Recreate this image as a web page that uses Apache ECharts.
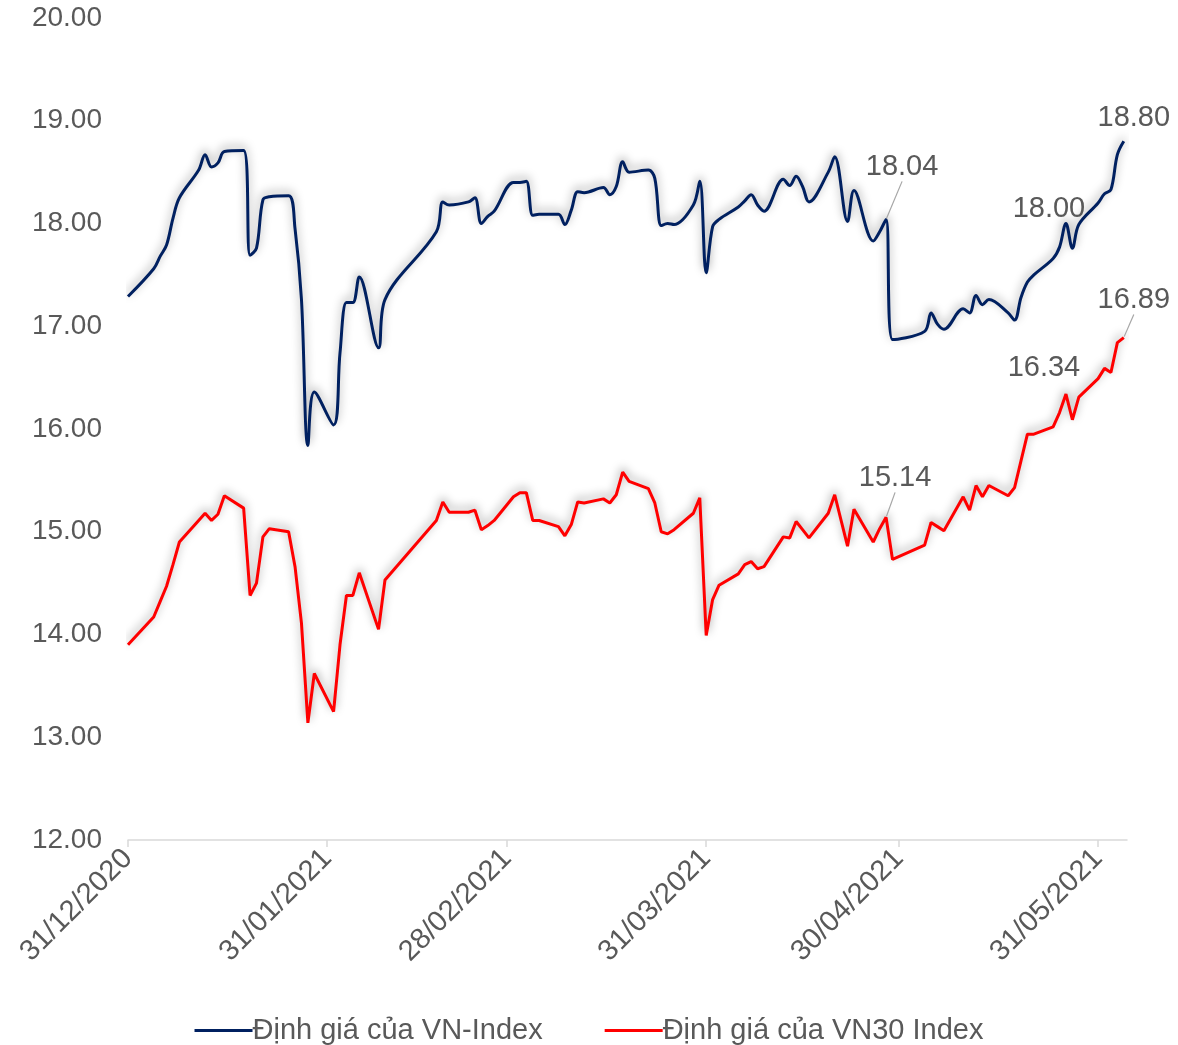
<!DOCTYPE html>
<html>
<head>
<meta charset="utf-8">
<script src="https://cdn.jsdelivr.net/npm/echarts@6/dist/echarts.min.js"></script>
<style>
  html, body { margin: 0; padding: 0; background: #fff; }
  #main { width: 1178px; height: 1045px; }
</style>
</head>
<body>
<div id="main"></div>
<script>
// ngày giao dịch
var dates = [
  '2020-12-31',
  '2021-01-04', '2021-01-05', '2021-01-06', '2021-01-07', '2021-01-08',
  '2021-01-11', '2021-01-12', '2021-01-13', '2021-01-14', '2021-01-15',
  '2021-01-18', '2021-01-19', '2021-01-20', '2021-01-21', '2021-01-22',
  '2021-01-25', '2021-01-26', '2021-01-27', '2021-01-28', '2021-01-29',
  '2021-02-01', '2021-02-02', '2021-02-03', '2021-02-04', '2021-02-05',
  '2021-02-08', '2021-02-09',
  '2021-02-17', '2021-02-18', '2021-02-19',
  '2021-02-22', '2021-02-23', '2021-02-24', '2021-02-25', '2021-02-26',
  '2021-03-01', '2021-03-02', '2021-03-03', '2021-03-04', '2021-03-05',
  '2021-03-08', '2021-03-09', '2021-03-10', '2021-03-11', '2021-03-12',
  '2021-03-15', '2021-03-16', '2021-03-17', '2021-03-18', '2021-03-19',
  '2021-03-22', '2021-03-23', '2021-03-24', '2021-03-25', '2021-03-26',
  '2021-03-29', '2021-03-30', '2021-03-31',
  '2021-04-01', '2021-04-02',
  '2021-04-05', '2021-04-06', '2021-04-07', '2021-04-08', '2021-04-09',
  '2021-04-12', '2021-04-13', '2021-04-14', '2021-04-15', '2021-04-16',
  '2021-04-19', '2021-04-20', '2021-04-22', '2021-04-23',
  '2021-04-26', '2021-04-27', '2021-04-28', '2021-04-29',
  '2021-05-04', '2021-05-05', '2021-05-06', '2021-05-07',
  '2021-05-10', '2021-05-11', '2021-05-12', '2021-05-13', '2021-05-14',
  '2021-05-17', '2021-05-18', '2021-05-19', '2021-05-20', '2021-05-21',
  '2021-05-24', '2021-05-25', '2021-05-26', '2021-05-27', '2021-05-28',
  '2021-05-31',
  '2021-06-01', '2021-06-02', '2021-06-03', '2021-06-04'
]

// P/E VN-Index
var vnIndex = [
  17.29,
  17.56, 17.68, 17.79, 18.05, 18.25,
  18.52, 18.67, 18.55, 18.59, 18.70,
  18.71, 17.69, 17.76, 18.23, 18.26,
  18.27, 17.95, 17.26, 15.84, 16.36,
  16.04, 16.74, 17.23, 17.23, 17.48,
  16.79, 17.26,
  17.92, 18.21, 18.18,
  18.21, 18.25, 18.00, 18.07, 18.12,
  18.40, 18.40, 18.41, 18.08, 18.09,
  18.09, 17.99, 18.13, 18.31, 18.30,
  18.35, 18.28, 18.36, 18.60, 18.50,
  18.52, 18.44, 17.98, 18.00, 17.99,
  18.18, 18.41, 17.52,
  17.97, 18.04,
  18.16, 18.22, 18.28, 18.18, 18.12,
  18.43, 18.37, 18.46, 18.36, 18.21,
  18.50, 18.65, 18.02, 18.32,
  17.83, 17.92, 18.04, 16.87,
  16.95, 17.13, 17.02, 16.97,
  17.17, 17.13, 17.30, 17.21, 17.26,
  17.13, 17.06, 17.28, 17.43, 17.50,
  17.66, 17.77, 18.00, 17.76, 17.99,
  18.20,
  18.29, 18.33, 18.67, 18.80
]

// P/E VN30 Index
var vn30 = [
  13.90,
  14.17, 14.32, 14.47, 14.68, 14.90,
  15.11, 15.18, 15.11, 15.17, 15.35,
  15.23, 14.38, 14.50, 14.95, 15.03,
  15.00, 14.66, 14.11, 13.14, 13.62,
  13.25, 13.90, 14.38, 14.38, 14.60,
  14.05, 14.53,
  15.11, 15.29, 15.19,
  15.19, 15.21, 15.02, 15.06, 15.11,
  15.34, 15.38, 15.38, 15.11, 15.11,
  15.05, 14.96, 15.07, 15.29, 15.28,
  15.32, 15.28, 15.36, 15.58, 15.49,
  15.42, 15.28, 15.00, 14.98, 15.02,
  15.18, 15.33, 13.99,
  14.34, 14.48,
  14.59, 14.68, 14.71, 14.64, 14.66,
  14.95, 14.94, 15.10, 15.02, 14.94,
  15.18, 15.36, 14.86, 15.22,
  14.90, 15.03, 15.14, 14.73,
  14.87, 15.09, 15.05, 15.01,
  15.34, 15.21, 15.45, 15.34, 15.45,
  15.35, 15.43, 15.69, 15.95, 15.95,
  16.02, 16.16, 16.34, 16.09, 16.31,
  16.49,
  16.59, 16.55, 16.84, 16.89
]

var labelDates = ['2021-04-28', '2021-05-26', '2021-06-04']
var tickDates = ['2020-12-31', '2021-01-31', '2021-02-28', '2021-03-31', '2021-04-30', '2021-05-31']
var seriesNames = ['Định giá của VN-Index', 'Định giá của VN30 Index']

var FONT = '"Liberation Sans", Arial, sans-serif'
var TEXT_COLOR = '#595959'

// dịch nhãn dữ liệu [dx, dy, có đường dẫn]
var labelShift = [
  { '2021-04-28': [16, -33, true], '2021-05-26': [-17, 5, false], '2021-06-04': [10, -4, false] },
  { '2021-04-28': [9, -20, true], '2021-05-26': [-22, -7, false], '2021-06-04': [10, -18, true] }
]

// ngày -> số ngày kể từ 1970 (UTC), tránh lệch múi giờ
function dayNum(d) {
  var p = d.split('-')
  return Date.UTC(+p[0], +p[1] - 1, +p[2]) / 86400000
}

function pad(n) {
  return n < 10 ? '0' + n : '' + n
}

function buildData(values, seriesIndex) {
  return dates.map(function (d, i) {
    var item = { value: [dayNum(d), values[i]] }
    if (labelDates.indexOf(d) > -1) {
      item.symbol = 'circle'
      item.symbolSize = 2
      item.itemStyle = { color: 'rgba(0,0,0,0)', borderWidth: 0 }
      item.label = {
        show: true,
        position: 'top',
        distance: 4,
        formatter: values[i].toFixed(2),
        color: TEXT_COLOR,
        fontSize: 29,
        fontFamily: FONT
      }
      item.labelLine = {
        show: labelShift[seriesIndex][d][2],
        lineStyle: { color: '#a6a6a6', width: 1.2 }
      }
    }
    return item
  })
}

function layoutFor(seriesIndex) {
  return function (params) {
    var s = labelShift[seriesIndex][dates[params.dataIndex]]
    if (!s) return {}
    return { dx: s[0], dy: s[1] }
  }
}

var chart = echarts.init(document.getElementById('main'))

var tickValues = tickDates.map(dayNum)

var option = {
  backgroundColor: '#fff',
  animation: false,
  grid: {
    left: 128,
    right: 51,
    top: 18,
    bottom: 205,
    containLabel: false
  },
  legend: {
    top: 1011,
    left: 'center',
    icon: 'rect',
    itemWidth: 58,
    itemHeight: 3,
    itemGap: 62,
    textStyle: { color: TEXT_COLOR, fontSize: 29, fontFamily: FONT, padding: [0, 0, 0, -5] },
    data: seriesNames
  },
  xAxis: {
    type: 'value',
    min: dayNum('2020-12-31'),
    max: dayNum('2021-06-04') + 0.5,
    axisLine: { show: true, lineStyle: { color: '#d9d9d9', width: 1.5 } },
    axisTick: {
      show: true,
      length: 7,
      customValues: tickValues,
      lineStyle: { color: '#d9d9d9', width: 1.5 }
    },
    splitLine: { show: false },
    axisLabel: {
      customValues: tickValues,
      rotate: 45,
      margin: 14,
      color: TEXT_COLOR,
      fontSize: 29,
      fontFamily: FONT,
      formatter: function (v) {
        var d = new Date(v * 86400000)
        return pad(d.getUTCDate()) + '/' + pad(d.getUTCMonth() + 1) + '/' + d.getUTCFullYear()
      }
    }
  },
  yAxis: {
    type: 'value',
    min: 12,
    max: 20,
    interval: 1,
    axisLine: { show: false },
    axisTick: { show: false },
    splitLine: { show: false },
    axisLabel: {
      margin: 26,
      color: TEXT_COLOR,
      fontSize: 28,
      fontFamily: FONT,
      formatter: function (v) {
        return v.toFixed(2)
      }
    }
  },
  series: [
    {
      name: seriesNames[0],
      type: 'line',
      smooth: 0.35,
      symbol: 'none',
      showSymbol: true,
      color: '#002060',
      lineStyle: {
        width: 3,
        color: '#002060',
        shadowColor: 'rgba(0, 0, 0, 0.4)',
        shadowBlur: 10,
        shadowOffsetY: -3
      },
      labelLayout: layoutFor(0),
      data: buildData(vnIndex, 0),
      z: 3
    },
    {
      name: seriesNames[1],
      type: 'line',
      smooth: false,
      symbol: 'none',
      showSymbol: true,
      color: '#ff0000',
      lineStyle: {
        width: 3,
        color: '#ff0000',
        shadowColor: 'rgba(0, 0, 0, 0.4)',
        shadowBlur: 10,
        shadowOffsetY: -3
      },
      labelLayout: layoutFor(1),
      data: buildData(vn30, 1),
      z: 3
    }
  ]
}

chart.setOption(option)
</script>
</body>
</html>
